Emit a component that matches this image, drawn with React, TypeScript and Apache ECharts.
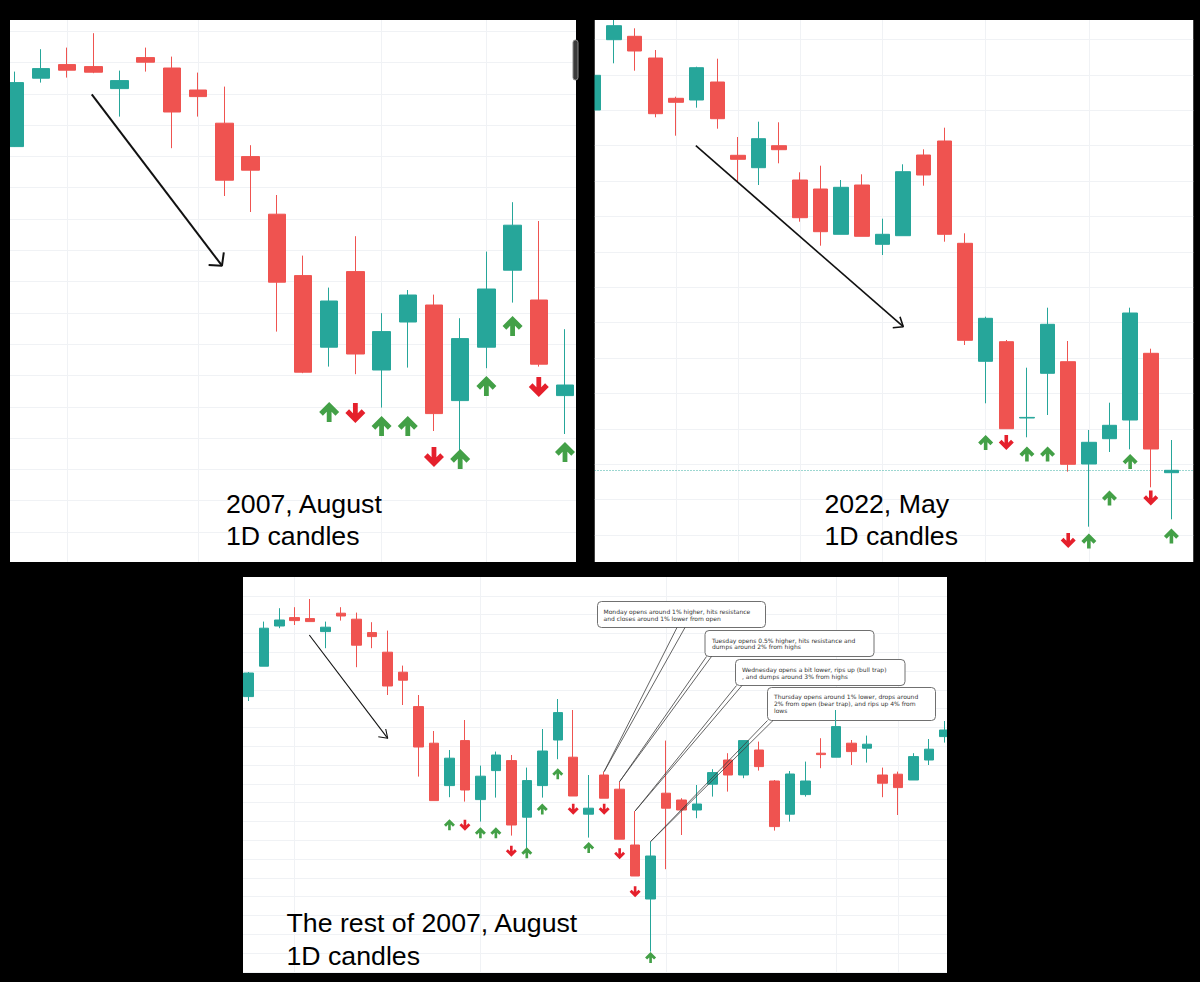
import React, { useEffect, useRef } from "react";
import * as echarts from "echarts";

// ---------- DATA ----------
// Candles are [open, close, low, high]; x value = trading-day index.

// Panel 1: 2007, August (daily)
const p1Candles = [
  [1526.7, 1558.7, 1526.5, 1564.2],
  [1560.9, 1565.7, 1558.7, 1575.4],
  [1567.7, 1564.9, 1561.2, 1576.2],
  [1566.7, 1563.9, 1563.4, 1583.4],
  [1555.7, 1559.7, 1541.7, 1564.7],
  [1571.2, 1568.9, 1564.2, 1576.2],
  [1566.0, 1544.0, 1525.9, 1571.7],
  [1555.0, 1551.7, 1541.7, 1563.7],
  [1538.4, 1509.9, 1502.0, 1556.7],
  [1521.7, 1514.9, 1494.0, 1527.4],
  [1492.9, 1458.9, 1434.2, 1502.5],
  [1462.2, 1413.9, 1413.4, 1472.2],
  [1426.4, 1449.5, 1416.7, 1456.2],
  [1464.2, 1423.0, 1412.9, 1481.9],
  [1415.0, 1434.2, 1396.2, 1443.4],
  [1439.0, 1452.5, 1416.2, 1455.0],
  [1447.5, 1393.2, 1384.5, 1452.7],
  [1399.7, 1430.7, 1365.9, 1440.9],
  [1426.4, 1455.5, 1415.9, 1474.2],
  [1464.9, 1487.4, 1448.7, 1498.9],
  [1450.0, 1417.9, 1416.7, 1489.5],
  [1402.2, 1407.5, 1383.0, 1435.4],
];
const p1UpArrows = [[12, 1394], [14, 1387], [15, 1387], [17, 1370.5], [18, 1407], [19, 1437], [21, 1374]];
const p1DownArrows = [[13, 1393.5], [16, 1371.5], [20, 1406.5]];
const p1PriceLines = [1584.4, 1568.75, 1553.1, 1537.45, 1521.8, 1506.15, 1490.5, 1474.85, 1459.2, 1443.55, 1427.9, 1412.25, 1396.6, 1380.95, 1365.3, 1349.65, 1334.0];
const p1DateLines = [2, 7, 14, 18];
const p1Trend = [[2.94, 1552.85], [7.91, 1467.15]];
const p1TrendHead = [[7.4, 1467.5], [7.91, 1467.15], [7.98, 1473.85]];

// Panel 2: 2022, May (daily)
const p2Candles = [
  [38700, 39741, 38700, 39741],
  [40809, 41229, 40101, 41460],
  [40911, 40470, 39879, 41151],
  [40260, 38589, 38481, 40500],
  [39051, 38931, 37929, 39099],
  [39000, 39969, 38769, 39999],
  [39540, 38439, 38139, 40239],
  [37341, 37221, 36549, 37890],
  [36969, 37839, 36450, 38349],
  [37629, 37509, 37101, 38331],
  [36600, 35469, 35349, 36831],
  [36330, 35049, 34629, 37029],
  [34971, 36381, 34971, 36600],
  [36450, 34911, 34911, 36771],
  [34671, 34971, 34350, 35439],
  [34929, 36849, 34929, 37071],
  [37350, 36750, 36429, 37521],
  [37770, 34971, 34749, 38169],
  [34701, 31791, 31650, 35001],
  [31161, 32451, 29901, 32499],
  [31749, 29139, 29139, 31800],
  [29460, 29478, 28881, 30969],
  [30801, 32271, 29550, 32769],
  [31149, 28071, 27849, 31770],
  [28080, 28731, 26199, 29100],
  [28839, 29241, 28440, 29919],
  [29400, 32610, 28521, 32769],
  [31401, 28530, 27381, 31539],
  [27819, 27891, 26421, 28800],
];
const p2UpArrows = [[19, 28725], [21, 28380], [22, 28380], [24, 25770], [25, 27060], [26, 28155], [28, 25920]];
const p2DownArrows = [[20, 28725], [23, 25785], [27, 27060]];
const p2PriceLines = [25950, 27012, 28074, 29136, 30198, 31260, 32322, 33384, 34446, 35508, 36570, 37632, 38694, 39756, 40818];
const p2DateLines = [4, 7, 10, 14, 19, 24];
const p2LastPrice = 27891;
const p2Trend = [[4.96, 37629], [15.01, 32199]];
const p2TrendHead = [[14.5, 32169], [15.01, 32199], [14.85, 32499]];

// Panel 3: the rest of 2007, August (daily)
const p3Candles = [
  [1501.7, 1513.5, 1499.5, 1514.0],
  [1516.9, 1535.9, 1516.9, 1539.2],
  [1537.0, 1540.0, 1535.9, 1545.9],
  [1541.2, 1539.7, 1537.5, 1546.4],
  [1540.7, 1539.2, 1539.2, 1550.5],
  [1534.2, 1536.4, 1525.9, 1539.2],
  [1543.4, 1542.0, 1539.7, 1546.4],
  [1540.4, 1527.4, 1516.4, 1543.7],
  [1533.7, 1531.7, 1525.9, 1538.9],
  [1523.9, 1507.0, 1502.5, 1534.7],
  [1513.9, 1509.9, 1497.5, 1517.2],
  [1496.7, 1476.5, 1461.7, 1502.5],
  [1478.4, 1449.7, 1449.7, 1484.5],
  [1457.2, 1470.9, 1451.4, 1475.0],
  [1479.7, 1455.0, 1449.2, 1490.0],
  [1450.2, 1461.9, 1439.2, 1467.2],
  [1464.7, 1472.5, 1451.2, 1474.2],
  [1469.7, 1437.5, 1432.2, 1472.5],
  [1441.4, 1459.7, 1422.2, 1466.2],
  [1457.2, 1474.5, 1451.2, 1485.5],
  [1480.0, 1493.7, 1470.4, 1500.5],
  [1471.4, 1452.0, 1452.0, 1495.0],
  [1442.9, 1445.9, 1431.2, 1462.5],
  [1462.5, 1450.9, 1450.9, 1464.2],
  [1455.4, 1430.4, 1430.4, 1459.2],
  [1427.5, 1412.0, 1412.0, 1444.5],
  [1400.5, 1422.0, 1374.2, 1429.2],
  [1453.4, 1445.9, 1415.4, 1479.7],
  [1450.0, 1445.0, 1432.5, 1450.9],
  [1445.0, 1448.0, 1440.9, 1457.5],
  [1457.9, 1463.7, 1451.7, 1465.4],
  [1470.0, 1462.5, 1454.2, 1473.4],
  [1462.5, 1479.7, 1460.9, 1479.7],
  [1475.0, 1466.7, 1464.7, 1479.2],
  [1459.5, 1436.7, 1434.7, 1460.0],
  [1442.9, 1463.0, 1439.2, 1464.5],
  [1452.7, 1459.5, 1451.7, 1469.2],
  [1473.4, 1472.7, 1465.9, 1480.9],
  [1471.4, 1486.7, 1471.4, 1495.0],
  [1478.4, 1474.2, 1467.5, 1480.0],
  [1475.9, 1477.9, 1468.7, 1482.2],
  [1462.5, 1458.4, 1451.4, 1466.2],
  [1462.9, 1456.2, 1442.5, 1464.2],
  [1460.0, 1471.7, 1460.0, 1473.4],
  [1470.0, 1475.4, 1467.5, 1480.5],
  [1481.7, 1485.0, 1478.7, 1489.5],
];
const p3UpArrows = [[13, 1437.65], [15, 1433.6], [16, 1433.6], [18, 1423.6], [19, 1445.5], [20, 1463.15], [22, 1426.25], [26, 1371.25]];
const p3DownArrows = [[14, 1437.35], [17, 1424.4], [21, 1445.4], [23, 1445.4], [24, 1423.1], [25, 1404.15]];
const p3PriceLines = [1552.1, 1542.7, 1533.3, 1523.9, 1514.5, 1505.1, 1495.7, 1486.3, 1476.9, 1467.5, 1458.1, 1448.7, 1439.3, 1429.9, 1420.5, 1411.1, 1401.7, 1392.3, 1382.9, 1373.5, 1364.1];
const p3DateLines = [3, 15, 27, 38, 42];
const p3Trend = [[3.94, 1532.5], [9.01, 1480.85]];
const p3TrendHead = [[8.4, 1481.65], [9.01, 1480.85], [8.88, 1485.5]];

const noteCandles = [23, 24, 25, 26];
const noteTexts = [
  "Monday opens around 1% higher, hits resistance\nand closes around 1% lower from open",
  "Tuesday opens 0.5% higher, hits resistance and\ndumps around 2% from highs",
  "Wednesday opens a bit lower, rips up (bull trap)\n, and dumps around 3% from highs",
  "Thursday opens around 1% lower, drops around\n2% from open (bear trap), and rips up 4% from\nlows",
];
const panelTitles = [
  ["2007, August", "1D candles"],
  ["2022, May", "1D candles"],
  ["The rest of 2007, August", "1D candles"],
];

// ---------- STYLE / LAYOUT ----------
const TEAL = "#26a69a";
const RED = "#ef5350";
const UP_ARROW = "#43a047";
const DOWN_ARROW = "#e5202c";
const GRID_LINE = "#f0f2f5";
const UP_PATH = "path://M10,0 L20,10 L16.3,13.7 L12.4,9.8 L12.4,20 L7.6,20 L7.6,9.8 L3.7,13.7 L0,10 Z";
const DOWN_PATH = "path://M10,20 L20,10 L16.3,6.3 L12.4,10.2 L12.4,0 L7.6,0 L7.6,10.2 L3.7,6.3 L0,10 Z";

const panels = [
  {
    candles: p1Candles, up: p1UpArrows, down: p1DownArrows, priceLines: p1PriceLines, dateLines: p1DateLines,
    trend: p1Trend, head: p1TrendHead, lastPrice: null as number | null,
    rect: { left: 10, top: 20, width: 566, height: 542 }, x: [-0.18, 21.42], y: [1319, 1590],
    barWidth: 18, arrow: 20, trendWidth: 2,
  },
  {
    candles: p2Candles, up: p2UpArrows, down: p2DownArrows, priceLines: p2PriceLines, dateLines: p2DateLines,
    trend: p2Trend, head: p2TrendHead, lastPrice: p2LastPrice as number | null,
    rect: { left: 594.5, top: 20, width: 599, height: 542 }, x: [0.05, 29.07], y: [25140, 41400],
    barWidth: 15, arrow: 15, trendWidth: 1.6,
  },
  {
    candles: p3Candles, up: p3UpArrows, down: p3DownArrows, priceLines: p3PriceLines, dateLines: p3DateLines,
    trend: p3Trend, head: p3TrendHead, lastPrice: null as number | null,
    rect: { left: 243, top: 577, width: 704, height: 396 }, x: [-0.345, 45.16], y: [1363.5, 1561.5],
    barWidth: 10, arrow: 11, trendWidth: 1.1,
  },
];

function buildOption() {
  const grid: any[] = [];
  const xAxis: any[] = [];
  const yAxis: any[] = [];
  const series: any[] = [];
  panels.forEach((p, k) => {
    grid.push({ ...p.rect, show: true, backgroundColor: "#ffffff", borderWidth: 0, containLabel: false });
    xAxis.push({ type: "value", gridIndex: k, min: p.x[0], max: p.x[1], show: false });
    yAxis.push({ type: "value", gridIndex: k, min: p.y[0], max: p.y[1], show: false });
    const lines: any[] = [
      ...p.priceLines.map((v) => ({ yAxis: v })),
      ...p.dateLines.map((i) => ({ xAxis: i })),
    ];
    if (p.lastPrice != null) {
      lines.push({ yAxis: p.lastPrice, lineStyle: { color: TEAL, type: [1, 2], width: 1, opacity: 0.9 } });
    }
    series.push({
      type: "candlestick",
      xAxisIndex: k,
      yAxisIndex: k,
      data: p.candles.map((c, i) => [i, c[0], c[1], c[2], c[3]]),
      encode: { x: 0, y: [1, 2, 3, 4] },
      barWidth: p.barWidth,
      clip: false,
      silent: true,
      z: 2,
      itemStyle: { color: TEAL, color0: RED, borderColor: TEAL, borderColor0: RED, borderWidth: 1 },
      markLine: {
        silent: true,
        z: 1,
        symbol: "none",
        label: { show: false },
        lineStyle: { color: GRID_LINE, width: 1, type: "solid" },
        emphasis: { disabled: true },
        data: lines,
      },
    });
    series.push({
      type: "scatter", xAxisIndex: k, yAxisIndex: k, data: p.up, symbol: UP_PATH,
      symbolSize: [p.arrow, p.arrow], itemStyle: { color: UP_ARROW, opacity: 1 }, silent: true, z: 3,
    });
    series.push({
      type: "scatter", xAxisIndex: k, yAxisIndex: k, data: p.down, symbol: DOWN_PATH,
      symbolSize: [p.arrow, p.arrow], itemStyle: { color: DOWN_ARROW, opacity: 1 }, silent: true, z: 3,
    });
    series.push({
      type: "line", xAxisIndex: k, yAxisIndex: k, data: p.trend, symbol: "none", silent: true, z: 3,
      lineStyle: { color: "#111111", width: p.trendWidth },
    });
    series.push({
      type: "line", xAxisIndex: k, yAxisIndex: k, data: p.head, symbol: "none", silent: true, z: 3,
      lineStyle: { color: "#111111", width: p.trendWidth },
    });
  });
  return {
    animation: false,
    backgroundColor: "#000000",
    grid,
    xAxis,
    yAxis,
    series,
  };
}

function buildGraphics(chart: any) {
  const g: any[] = [];
  // black masks outside the three white panels
  const masks = [
    [0, 0, 1200, 20],
    [0, 0, 10, 577],
    [576, 0, 18.5, 577],
    [1193.5, 0, 6.5, 577],
    [0, 562, 1200, 15],
    [0, 577, 243, 405],
    [947, 577, 253, 405],
    [0, 973, 1200, 9],
  ];
  masks.forEach((m) => g.push({ type: "rect", z: 50, silent: true, shape: { x: m[0], y: m[1], width: m[2], height: m[3] }, style: { fill: "#000" } }));
  g.push({ type: "rect", z: 60, silent: true, shape: { x: 573, y: 40, width: 5, height: 40, r: 2.5 }, style: { fill: "#3a3a3a", stroke: "#8a8a8a", lineWidth: 1 } });

  // panel titles
  const titlePos = [
    { x: 226, y1: 503.5, y2: 536 },
    { x: 824.5, y1: 503.5, y2: 536 },
    { x: 286.5, y1: 922.5, y2: 956 },
  ];
  panelTitles.forEach((t, i) => {
    const pos = titlePos[i];
    [t[0], t[1]].forEach((txt, j) => {
      g.push({
        type: "text", z: 60, silent: true, x: pos.x, y: j === 0 ? pos.y1 : pos.y2,
        style: {
          text: txt, fontSize: 26.7, fontFamily: "'Liberation Sans', Arial, sans-serif", fill: "#000",
          align: "left", verticalAlign: "middle", textAlign: "left", textVerticalAlign: "middle",
        },
      });
    });
  });

  // callout boxes in panel 3
  const boxes = [
    { x: 597.5, y: 601.5, w: 168, h: 26, tx: 603.5, ty: 607.4, lh: 7.3, ax: [677, 685] },
    { x: 705, y: 630.5, w: 169, h: 26, tx: 712, ty: 636.6, lh: 6.8, ax: [706.5, 711.5] },
    { x: 735.5, y: 659.5, w: 169.5, h: 26, tx: 742, ty: 665.5, lh: 7, ax: [736.5, 742] },
    { x: 767.5, y: 687.5, w: 168, h: 33, tx: 774, ty: 693.2, lh: 7, ax: [767.5, 773] },
  ];
  boxes.forEach((b, i) => {
    const idx = noteCandles[i];
    const target = chart.convertToPixel({ gridIndex: 2 }, [idx, p3Candles[idx][3]]);
    const by = b.y + b.h;
    g.push({ type: "rect", z: 1.5, silent: true, shape: { x: b.x, y: b.y, width: b.w, height: b.h, r: 4 }, style: { fill: "#fff", stroke: "#707070", lineWidth: 1 } });
    g.push({
      type: "text", z: 1.6, silent: true, x: b.tx, y: b.ty,
      style: {
        text: noteTexts[i], fontSize: 6, lineHeight: b.lh, fontFamily: "'DejaVu Sans', Verdana, sans-serif", fill: "#333",
        align: "left", verticalAlign: "top", textAlign: "left", textVerticalAlign: "top",
      },
    });
    g.push({
      type: "polyline", z: 4, silent: true,
      shape: { points: [[b.ax[0], by], [target[0], target[1]], [b.ax[1], by]] },
      style: { stroke: "#3c3c3c", lineWidth: 0.8, fill: null },
    });
  });
  return g;
}

export default function App() {
  const ref = useRef<HTMLDivElement>(null);
  useEffect(() => {
    document.body.style.margin = "0";
    document.body.style.background = "#000";
    const chart = echarts.init(ref.current as HTMLDivElement, undefined, { renderer: "svg", width: 1200, height: 982 });
    chart.setOption(buildOption() as any);
    chart.setOption({ graphic: buildGraphics(chart) } as any);
    return () => chart.dispose();
  }, []);
  return <div ref={ref} style={{ position: "absolute", left: 0, top: 0, width: 1200, height: 982 }} />;
}
